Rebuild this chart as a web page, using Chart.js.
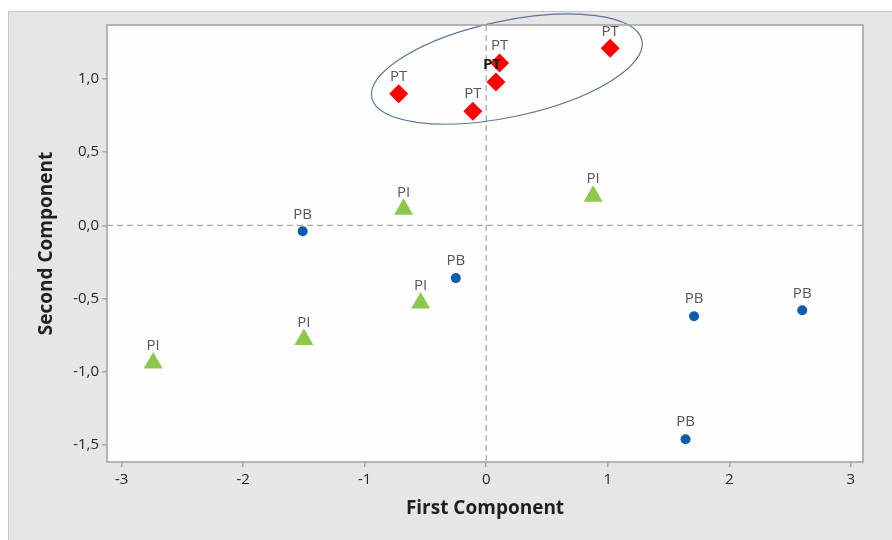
<!DOCTYPE html>
<html>
<head>
<meta charset="utf-8">
<script src="https://cdn.jsdelivr.net/npm/chart.js@4.4.1/dist/chart.umd.min.js"></script>
<style>
  html, body { margin: 0; padding: 0; background: #ffffff; }
  #wrap { width: 892px; height: 540px; position: relative; }
</style>
</head>
<body>
<div id="wrap"><canvas id="pca"></canvas></div>
<script>
// Scores on the first two principal components, per sample group
const groupNames = ['PT', 'PI', 'PB'];

const ptFirst  = [-0.72, -0.11, 0.08, 0.11, 1.02];
const ptSecond = [0.90, 0.78, 0.98, 1.11, 1.21];

const piFirst  = [-2.74, -1.50, -0.54, -0.68, 0.88];
const piSecond = [-0.94, -0.78, -0.53, 0.11, 0.20];

const pbFirst  = [-1.51, -0.25, 1.71, 2.60, 1.64];
const pbSecond = [-0.04, -0.36, -0.62, -0.58, -1.46];

const xTicks = [-3, -2, -1, 0, 1, 2, 3];
const yTicks = [-1.5, -1.0, -0.5, 0.0, 0.5, 1.0];

const xLimits = [-3.12, 3.10];
const yLimits = [-1.616, 1.369];

// Outline drawn around the PT cluster (centre and radii in data units)
const clusterCentre = [0.17, 1.068];
const clusterRadii = [1.136, 0.328];

const toPoints = (xs, ys) => xs.map((x, i) => ({ x: x, y: ys[i] }));

const FONT = '"Open Sans", "Noto Sans", sans-serif';

const decimalComma = v => v.toFixed(1).replace('.', ',');

const backdrop = {
  id: 'backdrop',
  beforeDraw(chart) {
    const { ctx, chartArea: a } = chart;
    ctx.save();
    ctx.fillStyle = '#ffffff';
    ctx.fillRect(0, 0, chart.width, chart.height);
    ctx.fillStyle = '#e6e6e6';
    ctx.fillRect(8, 11, chart.width - 8, chart.height - 11);
    ctx.strokeStyle = '#c6c6c6';
    ctx.lineWidth = 1;
    ctx.beginPath();
    ctx.moveTo(8.5, chart.height);
    ctx.lineTo(8.5, 11.5);
    ctx.lineTo(chart.width, 11.5);
    ctx.stroke();
    ctx.fillStyle = '#fefefe';
    ctx.fillRect(a.left, a.top, a.right - a.left, a.bottom - a.top);
    ctx.restore();
  },
  beforeDatasetsDraw(chart) {
    const { ctx, chartArea: a, scales: { x, y } } = chart;
    ctx.save();
    // reference lines through the origin
    ctx.strokeStyle = '#a9a9a9';
    ctx.lineWidth = 1.3;
    ctx.setLineDash([6, 4]);
    const x0 = x.getPixelForValue(0);
    const y0 = y.getPixelForValue(0);
    ctx.beginPath();
    ctx.moveTo(a.left, y0);
    ctx.lineTo(a.right, y0);
    ctx.moveTo(x0, a.top);
    ctx.lineTo(x0, a.bottom);
    ctx.stroke();
    ctx.setLineDash([]);
    // cluster outline
    const cx = x.getPixelForValue(clusterCentre[0]);
    const cy = y.getPixelForValue(clusterCentre[1]);
    const rx = Math.abs(x.getPixelForValue(clusterCentre[0] + clusterRadii[0]) - cx);
    const ry = Math.abs(y.getPixelForValue(clusterCentre[1] + clusterRadii[1]) - cy);
    ctx.strokeStyle = '#5a7896';
    ctx.lineWidth = 1.2;
    ctx.beginPath();
    ctx.ellipse(cx, cy, rx, ry, -12 * Math.PI / 180, 0, Math.PI * 2);
    ctx.stroke();
    ctx.restore();
  },
  afterDatasetsDraw(chart) {
    const { ctx, chartArea: a } = chart;
    ctx.save();
    // point labels
    ctx.textAlign = 'center';
    ctx.textBaseline = 'middle';
    chart.data.datasets.forEach((ds, di) => {
      const meta = chart.getDatasetMeta(di);
      meta.data.forEach((el, i) => {
        const strong = ds.label === 'PT' && i === 2;
        ctx.font = (strong ? 'bold ' : '') + '15px ' + FONT;
        ctx.fillStyle = strong ? '#1a1a1a' : '#555555';
        ctx.fillText(ds.label, el.x + (strong ? -4 : 0), el.y - 17);
      });
    });
    // frame of the plotting region
    ctx.strokeStyle = '#a6a6a6';
    ctx.lineWidth = 1.6;
    ctx.strokeRect(a.left, a.top, a.right - a.left, a.bottom - a.top);
    ctx.restore();
  }
};

new Chart(document.getElementById('pca'), {
  type: 'scatter',
  data: {
    datasets: [
      {
        label: groupNames[0],
        data: toPoints(ptFirst, ptSecond),
        pointStyle: 'rectRot',
        pointRadius: 9.5,
        backgroundColor: '#ff0000',
        borderColor: '#ff0000',
        borderWidth: 0
      },
      {
        label: groupNames[1],
        data: toPoints(piFirst, piSecond),
        pointStyle: 'triangle',
        pointRadius: 11,
        backgroundColor: '#8cc84e',
        borderColor: '#8cc84e',
        borderWidth: 0
      },
      {
        label: groupNames[2],
        data: toPoints(pbFirst, pbSecond),
        pointStyle: 'circle',
        pointRadius: 5,
        backgroundColor: '#0b5db0',
        borderColor: '#0b5db0',
        borderWidth: 0
      }
    ]
  },
  options: {
    responsive: true,
    maintainAspectRatio: false,
    animation: false,
    events: [],
    layout: { padding: { left: 0, top: 25, right: 29, bottom: 0 } },
    plugins: {
      legend: { display: false },
      tooltip: { enabled: false }
    },
    scales: {
      x: {
        type: 'linear',
        min: xLimits[0],
        max: xLimits[1],
        afterFit(scale) { scale.height = 78; },
        afterBuildTicks(scale) { scale.ticks = xTicks.map(v => ({ value: v })); },
        grid: { drawOnChartArea: false, drawTicks: true, tickLength: 5, color: '#a6a6a6', lineWidth: 1.5 },
        border: { display: false },
        ticks: {
          padding: 4,
          color: '#262626',
          font: { family: FONT, size: 15 },
          maxRotation: 0,
          callback: v => String(v)
        },
        title: {
          display: true,
          text: 'First Component',
          color: '#1f1f1f',
          font: { family: FONT, size: 19, weight: 'bold' },
          padding: { top: 0, bottom: 20 }
        }
      },
      y: {
        type: 'linear',
        min: yLimits[0],
        max: yLimits[1],
        afterFit(scale) { scale.width = 107; },
        afterBuildTicks(scale) { scale.ticks = yTicks.map(v => ({ value: v })); },
        grid: { drawOnChartArea: false, drawTicks: true, tickLength: 5, color: '#a6a6a6', lineWidth: 1.5 },
        border: { display: false },
        ticks: {
          padding: 3,
          color: '#262626',
          font: { family: FONT, size: 15 },
          callback: v => decimalComma(v)
        },
        title: {
          display: true,
          text: 'Second Component',
          color: '#1f1f1f',
          font: { family: FONT, size: 19, weight: 'bold' },
          padding: { top: 35, bottom: 0 }
        }
      }
    }
  },
  plugins: [backdrop]
});
</script>
</body>
</html>
